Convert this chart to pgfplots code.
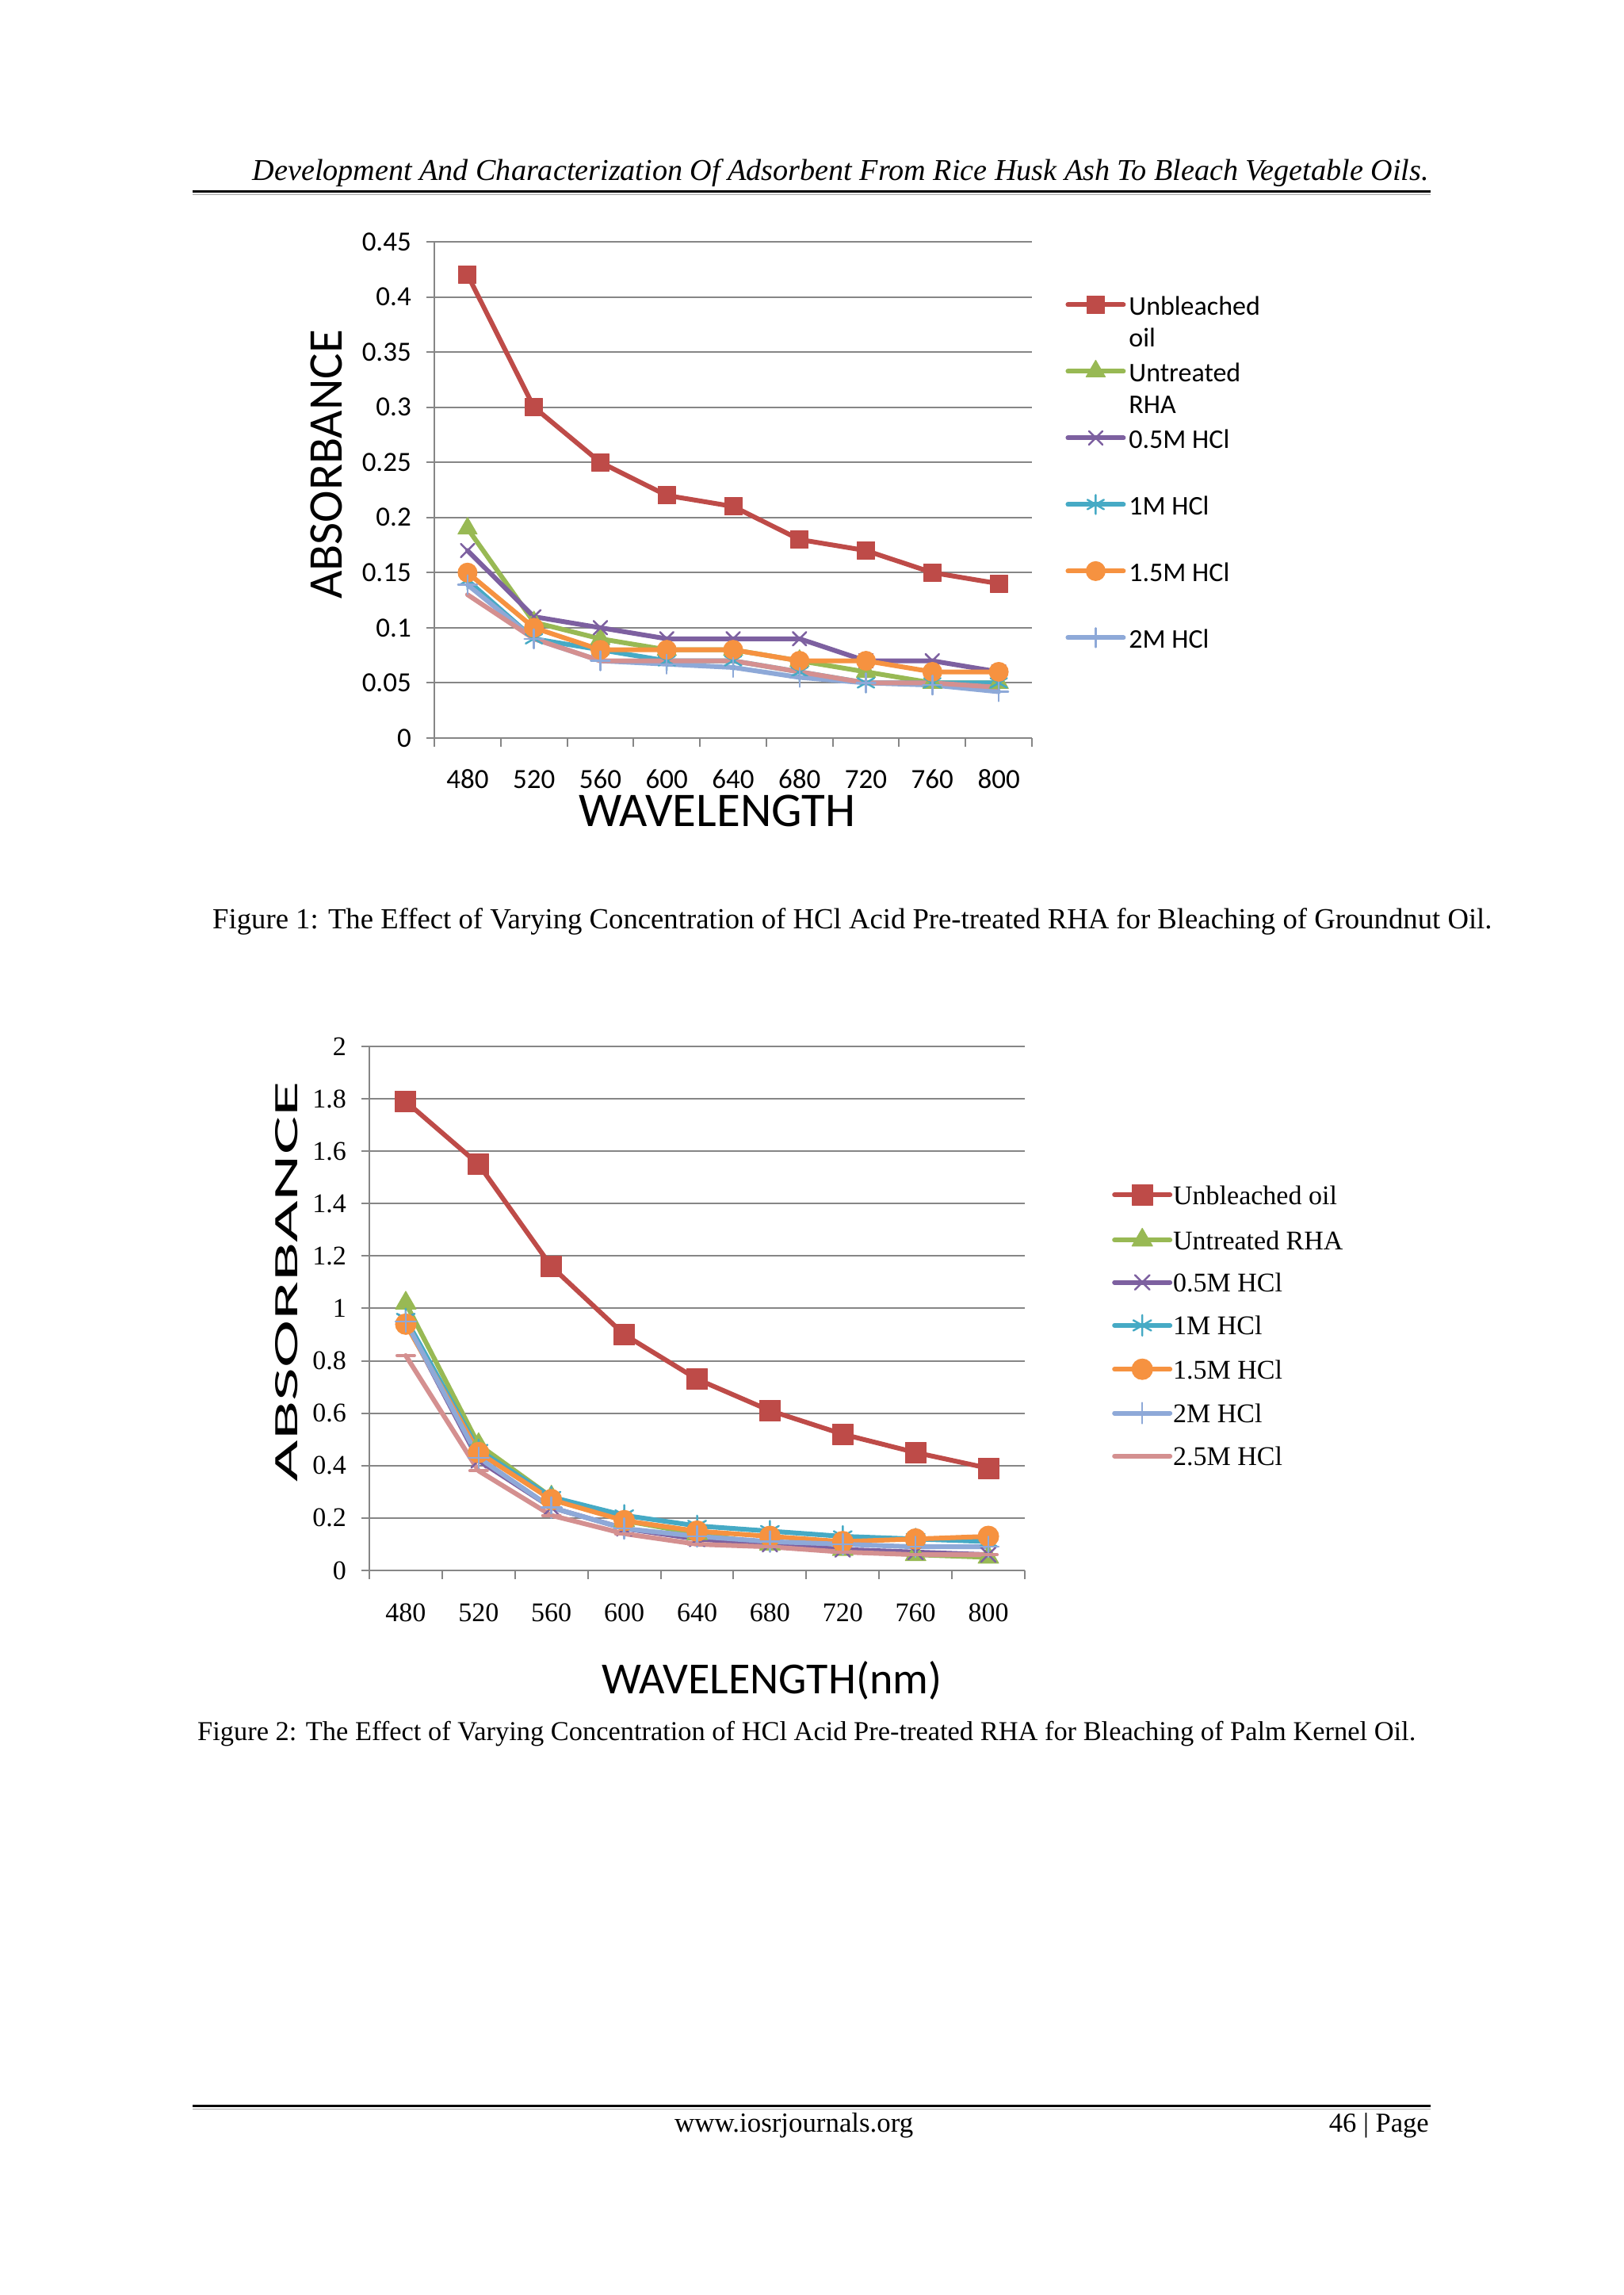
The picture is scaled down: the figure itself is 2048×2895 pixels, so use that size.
\documentclass[border=0pt]{standalone}
\usepackage{fontspec}
\setmainfont{Liberation Serif}
\newfontfamily\calibri{Carlito}
\usepackage{graphicx}
\usepackage{pgfplots}
\pgfplotsset{compat=1.18}

\definecolor{cRed}{HTML}{BE4B48}
\definecolor{cGreen}{HTML}{98B954}
\definecolor{cPurple}{HTML}{7D60A0}
\definecolor{cTeal}{HTML}{46AAC5}
\definecolor{cOrange}{HTML}{F69240}
\definecolor{cLblue}{HTML}{8EA9D8}
\definecolor{cPink}{HTML}{D49090}
\definecolor{gridgray}{HTML}{868686}

% legend text: first line carries the marker, second line hangs below
\newcommand\twoline[2]{\raisebox{0pt}[\height][0pt]{\begin{tabular}[t]{@{}l@{}}#1\\#2\end{tabular}}}

\pgfplotsset{
  excel/.style={
    scale only axis,
    xmin=0.5, xmax=9.5,
    xtick={1,...,9},
    xticklabels={480,520,560,600,640,680,720,760,800},
    minor xtick={0.5,1.5,...,9.5},
    axis x line*=bottom, axis y line*=left,
    axis line style={draw=gridgray, line width=2pt},
    ymajorgrids,
    major grid style={draw=gridgray, line width=2pt},
    tick align=outside,
    major tick length=10pt,
    minor tick length=11pt,
    major x tick style={draw=none},
    minor x tick style={draw=gridgray, line width=2pt},
    major y tick style={draw=gridgray, line width=2pt},
    /pgf/number format/assume math mode=true,
    yticklabel style={anchor=east, inner sep=0pt, xshift=-19pt},
    legend cell align=left,
    legend image code/.code={\draw[mark repeat=2,mark phase=2,##1] plot coordinates {(0pt,0pt) (35pt,0pt) (70pt,0pt)};},
    every axis plot/.append style={line width=6pt, line join=round, line cap=round},
    clip=false,
  },
}

\begin{document}
\begin{tikzpicture}[x=1pt,y=1pt]
\fill[white] (0,0) rectangle (2048,2895);
\path[use as bounding box] (0,0) rectangle (2048,2895);

% running head
\node[anchor=base east, inner sep=0pt] at (1803,2667)
  {\resizebox{1484pt}{!}{\itshape Development And Characterization Of Adsorbent From Rice Husk Ash To Bleach Vegetable Oils.}};
\draw[black, line width=3pt] (243,2653) -- (1805,2653);
\draw[gray!70, line width=1.5pt] (243,2649.5) -- (1805,2649.5);

% ---------------- Figure 1 ----------------
\begin{axis}[excel,
    at={(548pt,1964pt)}, anchor=south west,
    width=754pt, height=626pt,
    ymin=0, ymax=0.45,
    ytick={0,0.05,0.1,0.15,0.2,0.25,0.3,0.35,0.4,0.45},
    yticklabels={0,0.05,0.1,0.15,0.2,0.25,0.3,0.35,0.4,0.45},
    ticklabel style={font=\calibri\fontsize{35}{42}\selectfont},
    xticklabel style={anchor=base, inner sep=0pt, yshift=-54pt},
    xlabel={\calibri\fontsize{61}{70}\selectfont WAVELENGTH},
    ylabel={\calibri\fontsize{61}{70}\selectfont ABSORBANCE},
    xlabel style={at={(axis description cs:0.473,-0.147)}, anchor=center, inner sep=0pt},
    ylabel style={at={(axis description cs:-0.180,0.551)}, anchor=center, inner sep=0pt},
    legend style={draw=none, fill=none, at={(1.056,0.897)}, anchor=north west,
      font=\calibri\fontsize{34}{40}\selectfont, row sep=54.5pt, column sep=4pt,
      inner sep=0pt, nodes={inner sep=0pt}},
  ]
  \addplot[cRed, mark=square*, mark size=11pt, mark options={line width=1pt}] coordinates {
    (1,0.42)(2,0.30)(3,0.25)(4,0.22)(5,0.21)(6,0.18)(7,0.17)(8,0.15)(9,0.14)};
  \addlegendentry{\twoline{Unbleached}{oil}}
  \addplot[cGreen, mark=triangle*, mark size=14pt, mark options={line width=1pt}] coordinates {
    (1,0.19)(2,0.105)(3,0.09)(4,0.08)(5,0.08)(6,0.07)(7,0.06)(8,0.05)(9,0.05)};
  \addlegendentry{\twoline{Untreated}{RHA}}
  \addplot[cPurple, mark=x, mark size=12pt, mark options={line width=2.5pt}] coordinates {
    (1,0.17)(2,0.11)(3,0.10)(4,0.09)(5,0.09)(6,0.09)(7,0.07)(8,0.07)(9,0.06)};
  \addlegendentry{\twoline{0.5M HCl}{}}
  \addplot[cTeal, mark=asterisk, mark size=12pt, mark options={line width=2.5pt}] coordinates {
    (1,0.143)(2,0.09)(3,0.08)(4,0.07)(5,0.07)(6,0.06)(7,0.05)(8,0.05)(9,0.05)};
  \addlegendentry{\twoline{1M HCl}{}}
  \addplot[cOrange, mark=*, mark size=12pt, mark options={line width=1pt}] coordinates {
    (1,0.15)(2,0.10)(3,0.08)(4,0.08)(5,0.08)(6,0.07)(7,0.07)(8,0.06)(9,0.06)};
  \addlegendentry{\twoline{1.5M HCl}{}}
  \addplot[cLblue, mark=+, mark size=12pt, mark options={line width=2.5pt}] coordinates {
    (1,0.139)(2,0.09)(3,0.07)(4,0.067)(5,0.064)(6,0.055)(7,0.05)(8,0.048)(9,0.042)};
  \addlegendentry{\twoline{2M HCl}{}}
  \addplot[cPink, forget plot] coordinates {
    (1,0.13)(2,0.09)(3,0.07)(4,0.07)(5,0.07)(6,0.06)(7,0.05)(8,0.05)(9,0.046)};
\end{axis}

\node[anchor=base west, inner sep=0pt] at (268,1723)
  {\resizebox{1614pt}{!}{Figure 1: The Effect of Varying Concentration of HCl Acid Pre-treated RHA for Bleaching of Groundnut Oil.}};

% ---------------- Figure 2 ----------------
\begin{axis}[excel,
    at={(466pt,914pt)}, anchor=south west,
    width=827pt, height=661pt,
    ymin=0, ymax=2,
    ytick={0,0.2,0.4,0.6,0.8,1,1.2,1.4,1.6,1.8,2},
    yticklabels={0,0.2,0.4,0.6,0.8,1,1.2,1.4,1.6,1.8,2},
    ticklabel style={font=\fontsize{34}{41}\selectfont},
    xticklabel style={anchor=base, inner sep=0pt, yshift=-55pt},
    xlabel={\calibri\fontsize{56}{64}\selectfont WAVELENGTH(nm)},
    ylabel={\resizebox{505pt}{28pt}{\calibri ABSORBANCE}},
    xlabel style={at={(axis description cs:0.614,-0.210)}, anchor=center, inner sep=0pt},
    ylabel style={at={(axis description cs:-0.126,0.551)}, anchor=center, inner sep=0pt},
    legend style={draw=none, fill=none, at={(1.133,0.737)}, anchor=north west,
      font=\fontsize{34}{41}\selectfont, row sep=29.3pt, column sep=1pt,
      inner sep=0pt, nodes={inner sep=0pt, text height=24pt, text depth=0pt}},
  ]
  \addplot[cRed, mark=square*, mark size=13pt, mark options={line width=1pt}] coordinates {
    (1,1.79)(2,1.55)(3,1.16)(4,0.90)(5,0.73)(6,0.61)(7,0.52)(8,0.45)(9,0.39)};
  \addlegendentry{Unbleached oil}
  \addplot[cGreen, mark=triangle*, mark size=15pt, mark options={line width=1pt}] coordinates {
    (1,1.02)(2,0.48)(3,0.28)(4,0.19)(5,0.14)(6,0.10)(7,0.08)(8,0.06)(9,0.05)};
  \addlegendentry{Untreated RHA}
  \addplot[cPurple, mark=x, mark size=13pt, mark options={line width=2.5pt}] coordinates {
    (1,0.95)(2,0.42)(3,0.24)(4,0.16)(5,0.12)(6,0.10)(7,0.08)(8,0.07)(9,0.06)};
  \addlegendentry{0.5M HCl}
  \addplot[cTeal, mark=asterisk, mark size=13pt, mark options={line width=2.5pt}] coordinates {
    (1,0.96)(2,0.46)(3,0.28)(4,0.21)(5,0.17)(6,0.15)(7,0.13)(8,0.12)(9,0.11)};
  \addlegendentry{1M HCl}
  \addplot[cOrange, mark=*, mark size=13pt, mark options={line width=1pt}] coordinates {
    (1,0.94)(2,0.45)(3,0.27)(4,0.19)(5,0.15)(6,0.13)(7,0.11)(8,0.12)(9,0.13)};
  \addlegendentry{1.5M HCl}
  \addplot[cLblue, mark=+, mark size=13pt, mark options={line width=2.5pt}] coordinates {
    (1,0.95)(2,0.43)(3,0.24)(4,0.16)(5,0.13)(6,0.11)(7,0.10)(8,0.09)(9,0.09)};
  \addlegendentry{2M HCl}
  \addplot[cPink, mark=-, mark size=11pt, mark options={line width=4pt}] coordinates {
    (1,0.82)(2,0.38)(3,0.21)(4,0.14)(5,0.10)(6,0.09)(7,0.07)(8,0.06)(9,0.06)};
  \addlegendentry{2.5M HCl}
\end{axis}

\node[anchor=base west, inner sep=0pt] at (249,699)
  {\resizebox{1537pt}{!}{Figure 2: The Effect of Varying Concentration of HCl Acid Pre-treated RHA for Bleaching of Palm Kernel Oil.}};

% running foot
\draw[black, line width=3pt] (243,238) -- (1805,238);
\draw[gray!70, line width=1.5pt] (243,234.5) -- (1805,234.5);
\node[anchor=base west, inner sep=0pt] at (851,205) {\resizebox{301pt}{!}{www.iosrjournals.org}};
\node[anchor=base east, inner sep=0pt] at (1803,205) {\resizebox{126pt}{!}{46 | Page}};
\end{tikzpicture}
\end{document}
